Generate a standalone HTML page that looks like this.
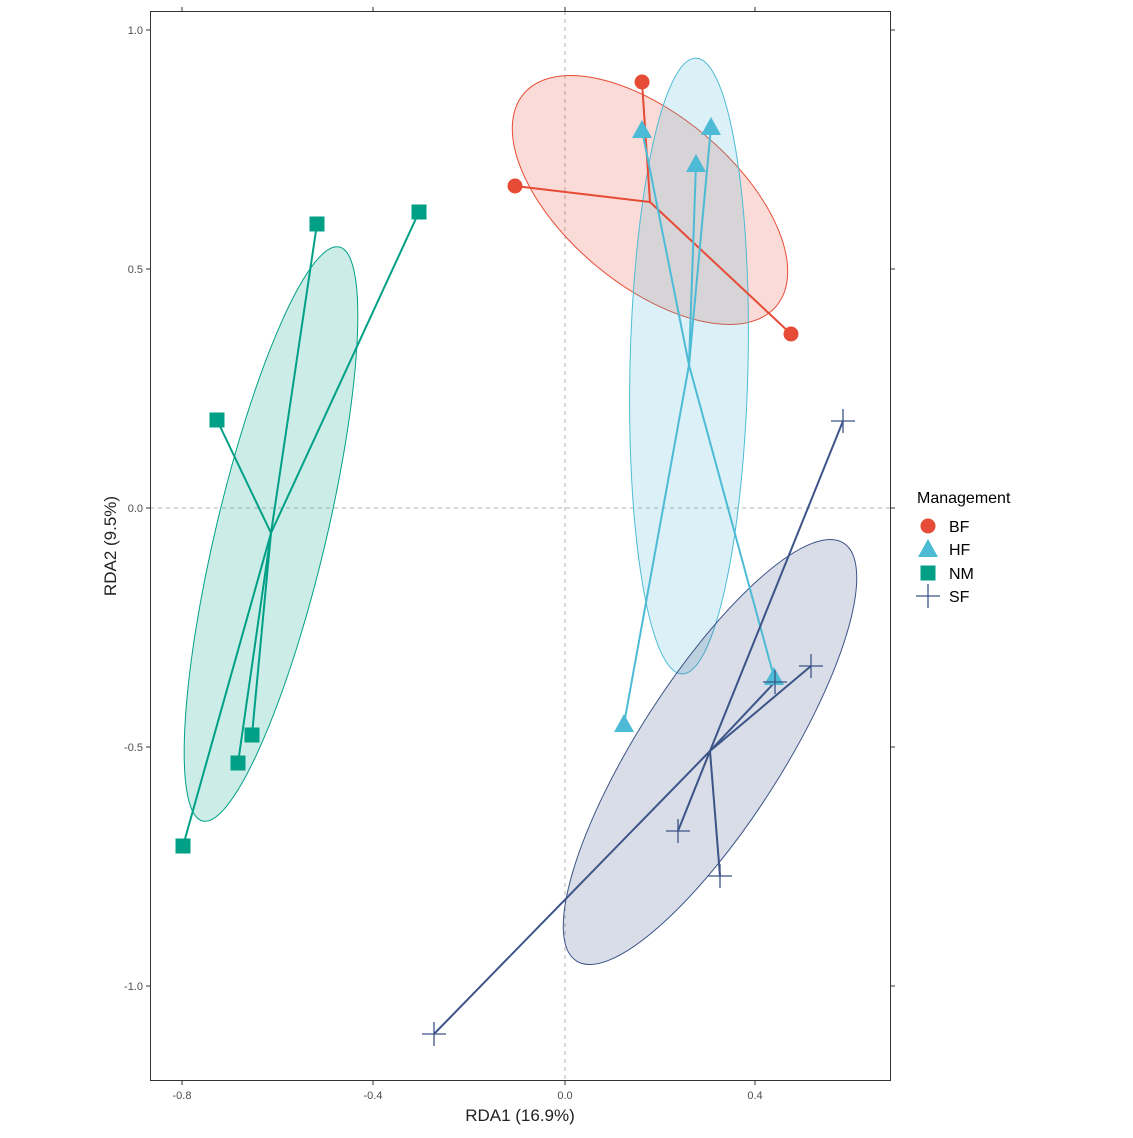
<!DOCTYPE html>
<html><head><meta charset="utf-8"><style>
html,body{margin:0;padding:0;background:#fff}
svg text{font-family:"Liberation Sans",Arial,sans-serif}
</style></head><body>
<svg width="1133" height="1133" viewBox="0 0 1133 1133" xmlns="http://www.w3.org/2000/svg">
<rect width="1133" height="1133" fill="#fff"/>
<line x1="565" y1="11" x2="565" y2="1081" stroke="#b3b3b3" stroke-dasharray="4,4"/>
<line x1="150" y1="508" x2="891" y2="508" stroke="#b3b3b3" stroke-dasharray="4,4"/>
<ellipse cx="650" cy="200" rx="165" ry="85" transform="rotate(40 650 200)" fill="#E64B35" fill-opacity="0.2" stroke="#E64B35"/>
<ellipse cx="689" cy="366" rx="308" ry="59" transform="rotate(91.3 689 366)" fill="#4DBBD5" fill-opacity="0.2" stroke="#4DBBD5"/>
<ellipse cx="271" cy="534" rx="295" ry="55" transform="rotate(-76.6 271 534)" fill="#00A087" fill-opacity="0.2" stroke="#00A087"/>
<ellipse cx="710" cy="752" rx="248" ry="72" transform="rotate(-57.4 710 752)" fill="#3C5488" fill-opacity="0.2" stroke="#3C5488"/>
<g stroke="#E64B35" stroke-width="2">
<line x1="650" y1="202" x2="642" y2="82"/><line x1="650" y1="202" x2="515" y2="186"/><line x1="650" y1="202" x2="791" y2="334"/></g>
<g stroke="#4DBBD5" stroke-width="2">
<line x1="689" y1="365" x2="642" y2="130"/><line x1="689" y1="365" x2="696" y2="164"/><line x1="689" y1="365" x2="711" y2="127"/><line x1="689" y1="365" x2="774" y2="677"/><line x1="689" y1="365" x2="624" y2="724"/></g>
<g stroke="#00A087" stroke-width="2">
<line x1="271" y1="533" x2="317" y2="224"/><line x1="271" y1="533" x2="419" y2="212"/><line x1="271" y1="533" x2="217" y2="420"/><line x1="271" y1="533" x2="252" y2="735"/><line x1="271" y1="533" x2="238" y2="763"/><line x1="271" y1="533" x2="183" y2="846"/></g>
<g stroke="#3C5488" stroke-width="2">
<line x1="710" y1="751" x2="843" y2="421"/><line x1="710" y1="751" x2="811" y2="666"/><line x1="710" y1="751" x2="678" y2="831"/><line x1="710" y1="751" x2="720" y2="876"/><line x1="710" y1="751" x2="775" y2="682"/><line x1="710" y1="751" x2="434" y2="1034"/></g>
<g fill="#E64B35"><circle cx="642" cy="82" r="7.5"/><circle cx="515" cy="186" r="7.5"/><circle cx="791" cy="334" r="7.5"/></g>
<g fill="#4DBBD5">
<polygon points="642,120 632,138 652,138"/><polygon points="696,154 686,172 706,172"/><polygon points="711,117 701,135 721,135"/><polygon points="774,667 764,685 784,685"/><polygon points="624,714 614,732 634,732"/></g>
<g fill="#00A087">
<rect x="309.5" y="216.5" width="15" height="15"/><rect x="411.5" y="204.5" width="15" height="15"/><rect x="209.5" y="412.5" width="15" height="15"/><rect x="244.5" y="727.5" width="15" height="15"/><rect x="230.5" y="755.5" width="15" height="15"/><rect x="175.5" y="838.5" width="15" height="15"/></g>
<g stroke="#3C5488" stroke-width="1.3">
<path d="M831 421h24M843 409v24"/><path d="M799 666h24M811 654v24"/><path d="M666 831h24M678 819v24"/><path d="M708 876h24M720 864v24"/><path d="M763 682h24M775 670v24"/><path d="M422 1034h24M434 1022v24"/></g>
<rect x="150.5" y="11.5" width="740" height="1069" fill="none" stroke="#333" stroke-width="1"/>
<g stroke="#333">
<path d="M182 1081v4M373 1081v4M565 1081v4M755 1081v4"/>
<path d="M182 11v-4M373 11v-4M565 11v-4M755 11v-4"/>
<path d="M146 30h4M146 269h4M146 508h4M146 747h4M146 986h4"/>
<path d="M891 30h4M891 269h4M891 508h4M891 747h4M891 986h4"/>
</g>
<g font-size="11" fill="#4d4d4d" text-anchor="middle">
<text x="182" y="1099">-0.8</text><text x="373" y="1099">-0.4</text><text x="565" y="1099">0.0</text><text x="755" y="1099">0.4</text>
</g>
<g font-size="11" fill="#4d4d4d" text-anchor="end">
<text x="143" y="34">1.0</text><text x="143" y="273">0.5</text><text x="143" y="512">0.0</text><text x="143" y="751">-0.5</text><text x="143" y="990">-1.0</text>
</g>
<text x="520" y="1121" font-size="17" text-anchor="middle" fill="#222">RDA1 (16.9%)</text>
<text x="0" y="0" font-size="17" text-anchor="middle" fill="#222" transform="translate(116 546) rotate(-90)">RDA2 (9.5%)</text>
<text x="917" y="503" font-size="16" fill="#000">Management</text>
<circle cx="928" cy="526" r="7.5" fill="#E64B35"/>
<polygon points="928,539 918,557 938,557" fill="#4DBBD5"/>
<rect x="920.5" y="565.5" width="15" height="15" fill="#00A087"/>
<path d="M916 596h24M928 584v24" stroke="#3C5488" stroke-width="1.3"/>
<g font-size="16" fill="#000">
<text x="949" y="532">BF</text><text x="949" y="555">HF</text><text x="949" y="579">NM</text><text x="949" y="602">SF</text>
</g>
</svg>
</body></html>
